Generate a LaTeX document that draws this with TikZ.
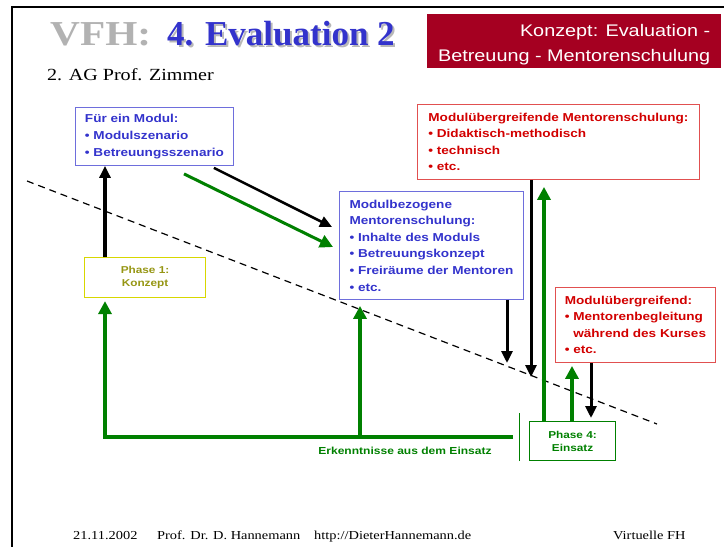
\documentclass[tikz,border=0pt]{standalone}
\usepackage{fontspec}
\setmainfont{Liberation Serif}[FakeStretch=1.18]
\newfontfamily\arialw{Liberation Sans}[FakeStretch=1.18]
\newfontfamily\titelfont{Liberation Serif}
\usetikzlibrary{arrows.meta}
\definecolor{vfhgray}{RGB}{178,178,178}
\definecolor{vfhblue}{RGB}{51,51,204}
\definecolor{vfhred}{RGB}{165,0,33}
\definecolor{txtred}{RGB}{210,0,0}
\definecolor{rimred}{RGB}{225,80,80}
\definecolor{rimblue}{RGB}{110,110,220}
\definecolor{phgreen}{RGB}{0,128,0}
\definecolor{phyellow}{RGB}{215,215,0}
\definecolor{pholive}{RGB}{150,150,20}

\begin{document}
\begin{tikzpicture}[x=1pt,y=-1pt,
		infobox/.style={draw, line width=0.9pt, anchor=north west, align=left, inner xsep=8pt, inner ysep=0pt, font=\arialw\bfseries\fontsize{11.5}{16.6}\selectfont},
		phasebox/.style={draw, line width=1.1pt, anchor=north west, align=center, inner sep=0pt, font=\arialw\bfseries\fontsize{10}{12.8}\selectfont},
		karr/.style={-{Triangle[length=12pt,width=11pt]}, line width=3pt},
		garr/.style={-{Triangle[length=13pt,width=13pt]}, line width=4pt, phgreen},
		kopf/.style={anchor=base west, inner sep=0pt, font=\bfseries\fontsize{35}{40}\selectfont},
		fuss/.style={anchor=base west, inner sep=0pt, font=\fontsize{12.2}{14}\selectfont}]
	\useasboundingbox (0,0) rectangle (724,547);
	\draw[line width=2pt] (12,547) -- (12,7) -- (724,7);

	\node[kopf, text=vfhgray] (vfh) at (50,45) {VFH:};
	\node[kopf, text=black!28, font=\titelfont\bfseries\fontsize{35}{40}\selectfont] (titels) at (169,47) {4. Evaluation 2};
	\node[kopf, text=vfhblue, font=\titelfont\bfseries\fontsize{35}{40}\selectfont] (titel) at (167,45) {4. Evaluation 2};
	\node[anchor=base west, inner sep=0pt, font=\fontsize{17}{20}\selectfont] (ag) at (47,80) {2. AG Prof. Zimmer};
	\node[anchor=north west, fill=vfhred, text=white, minimum width=294pt, minimum height=54pt, inner ysep=0pt, align=right,
		font=\arialw\fontsize{16.8}{25}\selectfont] (konzept) at (427,14) {\rule{0pt}{20pt}Konzept: Evaluation -\\Betreuung - Mentorenschulung};

	\draw[dashed, dash pattern=on 7pt off 5pt, line width=1.2pt] (27,181) -- (657,424);

	\node[infobox, rimblue, text=vfhblue, minimum width=158pt, minimum height=58pt] (modul) at (75,107)
		{Für ein Modul:\\• Modulszenario\\• Betreuungsszenario};
	\node[infobox, rimblue, text=vfhblue, minimum width=184pt, minimum height=108pt] (bezogen) at (339,191)
		{Modulbezogene\\Mentorenschulung:\\• Inhalte des Moduls\\• Betreuungskonzept\\• Freiräume der Mentoren\\• etc.};
	\node[infobox, rimred, text=txtred, minimum width=282pt, minimum height=75pt] (uebergr) at (417,104)
		{Modulübergreifende Mentorenschulung:\\• Didaktisch-methodisch\\• technisch\\• etc.};
	\node[infobox, rimred, text=txtred, minimum width=160pt, minimum height=75pt] (begleit) at (555,287)
		{Modulübergreifend:\\• Mentorenbegleitung\\\phantom{• }während des Kurses\\• etc.};
	\node[phasebox, phyellow, text=pholive, minimum width=121pt, minimum height=40pt] (phaseA) at (84,257) {Phase 1:\\Konzept};
	\node[phasebox, phgreen, minimum width=86pt, minimum height=39pt] (phaseD) at (529,421) {Phase 4:\\Einsatz};
	\node[text=phgreen, font=\arialw\bfseries\fontsize{10.2}{12}\selectfont] (erkennt) at (405,451) {Erkenntnisse aus dem Einsatz};

	\coordinate (xkonzept) at (105,0);
	\coordinate (xbezogen) at (360,0);
	\coordinate (xab1) at (507,0);
	\coordinate (xab2) at (531,0);
	\coordinate (xauf1) at (544,0);
	\coordinate (xauf2) at (572,0);
	\coordinate (xab3) at (591,0);
	\coordinate (halt1) at (507,363);
	\coordinate (halt2) at (531,377);
	\coordinate (rueck) at (513,437);

	\draw[karr, line width=4pt] (phaseA.north -| xkonzept) -- (modul.south -| xkonzept);
	\draw[karr, line width=2.5pt] ([xshift=-20pt,yshift=-2pt]modul.south east) -- ([xshift=-7pt,yshift=-36pt]bezogen.north west);
	\draw[garr, line width=3pt] ([xshift=109pt,yshift=-8pt]modul.south west) -- ([xshift=-6pt,yshift=-56pt]bezogen.north west);

	\draw[garr, shorten >=3pt] (rueck) -| (phaseA.south -| xkonzept);
	\draw[garr, shorten >=6pt] (rueck -| xbezogen) -- (bezogen.south -| xbezogen);
	\draw[karr] (bezogen.south -| xab1) -- (halt1);
	\draw[karr] (uebergr.south -| xab2) -- (halt2);
	\draw[garr, shorten >=7pt] (phaseD.north -| xauf1) -- (uebergr.south -| xauf1);
	\draw[garr, shorten >=3pt] (phaseD.north -| xauf2) -- (begleit.south -| xauf2);
	\draw[karr, shorten >=3pt] (begleit.south -| xab3) -- (phaseD.north -| xab3);
	\draw[phgreen, line width=0.8pt] ([xshift=-10pt]phaseD.south west) -- ++(0,-48);

	\foreach \px/\wort [count=\i] in {73/21.11.2002, 157/{Prof. Dr. D. Hannemann}, 314/{http://DieterHannemann.de}, 613/{Virtuelle FH}}
		\node[fuss] (fuss\i) at (\px,539) {\wort};
\end{tikzpicture}
\end{document}
